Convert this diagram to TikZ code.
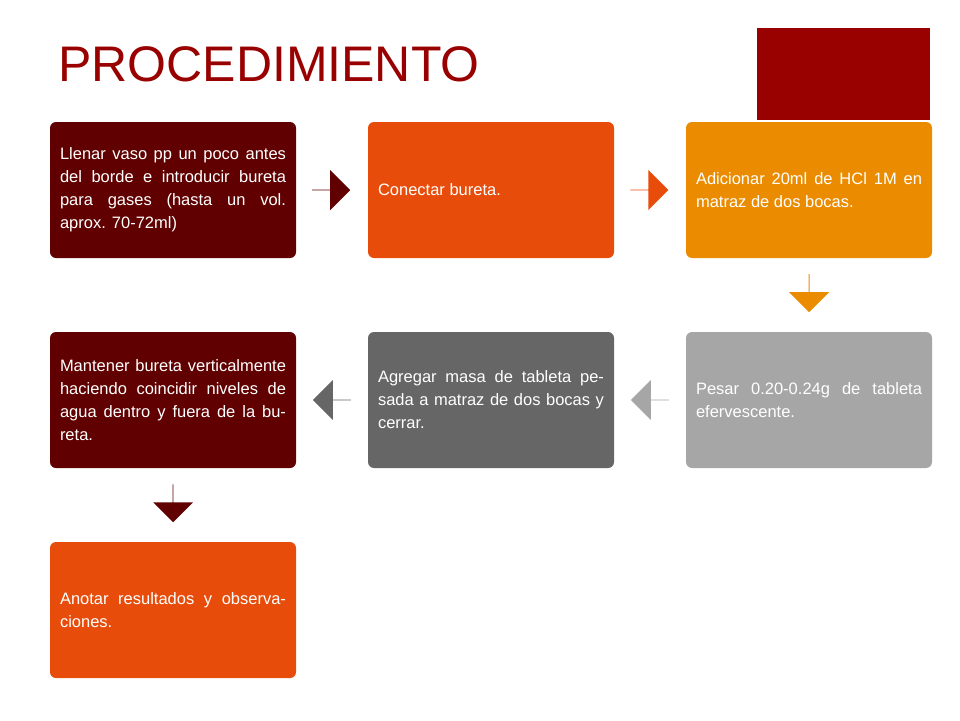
\documentclass[tikz,border=0pt]{standalone}
\usepackage{fontspec}
\setmainfont{Liberation Sans}
\usetikzlibrary{positioning, shapes, shapes.arrows}
\definecolor{maroon}{RGB}{96,0,0}
\definecolor{titlered}{RGB}{153,0,0}
\definecolor{redorange}{RGB}{232,76,10}
\definecolor{amber}{RGB}{235,140,0}
\definecolor{lightgrey}{RGB}{166,166,166}
\definecolor{darkgrey}{RGB}{102,102,102}
\tikzset{
	proc-node/.style={
		rectangle,
		rounded corners=6pt,
		minimum width=246pt,
		minimum height=136pt,
		text width=226pt,
		inner sep=10pt,
		align=justify,
		text=white,
		font=\fontsize{16.5}{23}\selectfont,
	},
	proc-arrow/.style={
		single arrow,
		single arrow head extend=8pt,
		minimum height=38pt,
		minimum width=40pt,
		inner sep=0pt,
	},
}
\begin{document}
\begin{tikzpicture}[x=1pt,y=-1pt]
    \useasboundingbox (0,0) rectangle (960,720);
    \fill[titlered] (757,28) rectangle (930,120);
    \node[anchor=base west, text=titlered, font=\fontsize{50}{50}\selectfont, inner sep=0pt] (title) at (58,81) {PROCEDIMIENTO};
    % first row
    \node[proc-node, fill=maroon] (llenar) at (173,190) {Llenar vaso pp un poco antes del borde e introducir bureta para gases (hasta un vol. aprox. 70-72ml)};
    \node[proc-node, fill=redorange] (conectar) at (491,190) {Conectar bureta.};
    \node[proc-node, fill=amber] (adicionar) at (809,190) {Adicionar 20ml de HCl 1M en matraz de dos bocas.};
    % second row
    \node[proc-node, fill=lightgrey] (pesar) at (809,400) {Pesar 0.20-0.24g de tableta efervescente.};
    \node[proc-node, fill=darkgrey] (agregar) at (491,400) {Agregar masa de tableta pesada a matraz de dos bocas y cerrar.};
    \node[proc-node, fill=maroon] (mantener) at (173,400) {Mantener bureta verticalmente haciendo coincidir niveles de agua dentro y fuera de la bureta.};
    % third row
    \node[proc-node, fill=redorange] (anotar) at (173,610) {Anotar resultados y observaciones.};
    % arrows
    \node[proc-arrow, fill=maroon] (a1) at (331,190) {};
    \node[proc-arrow, fill=redorange] (a2) at (649,190) {};
    \node[proc-arrow, fill=amber, shape border rotate=270] (a3) at (809,293) {};
    \node[proc-arrow, fill=lightgrey, shape border rotate=180] (a4) at (650,400) {};
    \node[proc-arrow, fill=darkgrey, shape border rotate=180] (a5) at (332,400) {};
    \node[proc-arrow, fill=maroon, shape border rotate=270] (a6) at (173,503) {};
\end{tikzpicture}
\end{document}
